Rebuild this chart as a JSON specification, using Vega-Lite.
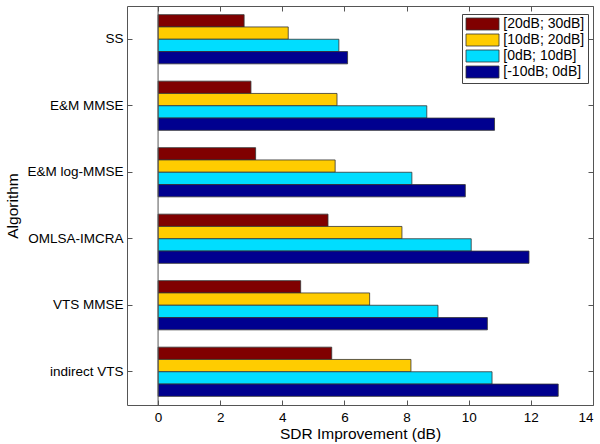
{
  "$schema": "https://vega.github.io/schema/vega-lite/v6.json",
  "width": 466,
  "height": 399,
  "autosize": "none",
  "padding": {"left": 127, "top": 6, "right": 7, "bottom": 39},
  "background": "white",
  "config": {
    "font": "Liberation Sans",
    "view": {"stroke": "#555", "strokeWidth": 1}
  },
  "data": {
    "values": [
      {"alg": "SS", "range": "[20dB; 30dB]", "value": 2.77},
      {"alg": "SS", "range": "[10dB; 20dB]", "value": 4.19},
      {"alg": "SS", "range": "[0dB; 10dB]", "value": 5.82},
      {"alg": "SS", "range": "[-10dB; 0dB]", "value": 6.10},
      {"alg": "E&M MMSE", "range": "[20dB; 30dB]", "value": 2.99},
      {"alg": "E&M MMSE", "range": "[10dB; 20dB]", "value": 5.76},
      {"alg": "E&M MMSE", "range": "[0dB; 10dB]", "value": 8.65},
      {"alg": "E&M MMSE", "range": "[-10dB; 0dB]", "value": 10.83},
      {"alg": "E&M log-MMSE", "range": "[20dB; 30dB]", "value": 3.14},
      {"alg": "E&M log-MMSE", "range": "[10dB; 20dB]", "value": 5.70},
      {"alg": "E&M log-MMSE", "range": "[0dB; 10dB]", "value": 8.17},
      {"alg": "E&M log-MMSE", "range": "[-10dB; 0dB]", "value": 9.89},
      {"alg": "OMLSA-IMCRA", "range": "[20dB; 30dB]", "value": 5.47},
      {"alg": "OMLSA-IMCRA", "range": "[10dB; 20dB]", "value": 7.85},
      {"alg": "OMLSA-IMCRA", "range": "[0dB; 10dB]", "value": 10.08},
      {"alg": "OMLSA-IMCRA", "range": "[-10dB; 0dB]", "value": 11.94},
      {"alg": "VTS MMSE", "range": "[20dB; 30dB]", "value": 4.59},
      {"alg": "VTS MMSE", "range": "[10dB; 20dB]", "value": 6.81},
      {"alg": "VTS MMSE", "range": "[0dB; 10dB]", "value": 9.01},
      {"alg": "VTS MMSE", "range": "[-10dB; 0dB]", "value": 10.60},
      {"alg": "indirect VTS", "range": "[20dB; 30dB]", "value": 5.59},
      {"alg": "indirect VTS", "range": "[10dB; 20dB]", "value": 8.14},
      {"alg": "indirect VTS", "range": "[0dB; 10dB]", "value": 10.75},
      {"alg": "indirect VTS", "range": "[-10dB; 0dB]", "value": 12.88}
    ]
  },
  "layer": [
    {
      "mark": {"type": "bar", "stroke": "#333", "strokeWidth": 0.8, "opacity": 1},
      "encoding": {
        "y": {
          "field": "alg", "type": "nominal",
          "sort": ["SS", "E&M MMSE", "E&M log-MMSE", "OMLSA-IMCRA", "VTS MMSE", "indirect VTS"],
          "scale": {"paddingInner": 0.26, "paddingOuter": 0.13},
          "axis": {
            "orient": "left", "title": "Algorithm", "titleFontSize": 15.5, "titleFontWeight": "normal",
            "titleColor": "#000", "titlePadding": 6,
            "labelFontSize": 13.5, "labelColor": "#000", "labelPadding": 9,
            "tickSize": -5, "tickColor": "#555", "domain": false
          }
        },
        "yOffset": {
          "field": "range", "type": "nominal",
          "sort": ["[20dB; 30dB]", "[10dB; 20dB]", "[0dB; 10dB]", "[-10dB; 0dB]"],
          "scale": {"paddingInner": 0, "paddingOuter": 0}
        },
        "x": {
          "field": "value", "type": "quantitative",
          "scale": {"domain": [-1, 14], "nice": false, "zero": false},
          "axis": {
            "orient": "bottom", "title": "SDR Improvement (dB)", "titleFontSize": 15.5, "titleFontWeight": "normal",
            "titleColor": "#000", "titlePadding": 3,
            "values": [0, 2, 4, 6, 8, 10, 12, 14],
            "labelFontSize": 13.5, "labelColor": "#000", "labelPadding": 10,
            "tickSize": -5, "tickColor": "#555", "domain": false, "grid": false
          }
        },
        "color": {
          "field": "range", "type": "nominal",
          "sort": ["[20dB; 30dB]", "[10dB; 20dB]", "[0dB; 10dB]", "[-10dB; 0dB]"],
          "scale": {
            "domain": ["[20dB; 30dB]", "[10dB; 20dB]", "[0dB; 10dB]", "[-10dB; 0dB]"],
            "range": ["#800000", "#FFCC00", "#00DDFF", "#00008F"]
          },
          "legend": {
            "orient": "none", "legendX": 335, "legendY": 8,
            "title": null,
            "symbolType": "M-1,-1H4.5V1H-1Z",
            "symbolSize": 144,
            "symbolStrokeColor": "#333", "symbolStrokeWidth": 0.8, "symbolOpacity": 1,
            "labelFontSize": 14, "labelColor": "#000", "labelOffset": 24.3,
            "rowPadding": 0, "padding": 3,
            "strokeColor": "#444", "fillColor": "white"
          }
        }
      }
    },
    {
      "mark": {"type": "bar", "opacity": 0},
      "encoding": {
        "y": {
          "field": "alg", "type": "nominal",
          "sort": ["SS", "E&M MMSE", "E&M log-MMSE", "OMLSA-IMCRA", "VTS MMSE", "indirect VTS"],
          "axis": {"orient": "right", "title": null, "labels": false, "tickSize": -5, "tickColor": "#555", "domain": false}
        },
        "x": {
          "field": "value", "type": "quantitative",
          "axis": {"orient": "top", "title": null, "labels": false, "values": [0, 2, 4, 6, 8, 10, 12, 14], "tickSize": -5, "tickColor": "#555", "domain": false, "grid": false}
        }
      }
    },
    {
      "data": {"values": [{"base": 0}]},
      "mark": {"type": "rule", "color": "#555", "strokeWidth": 1},
      "encoding": {
        "x": {"field": "base", "type": "quantitative", "axis": null}
      }
    }
  ],
  "resolve": {"axis": {"x": "independent", "y": "independent"}}
}
